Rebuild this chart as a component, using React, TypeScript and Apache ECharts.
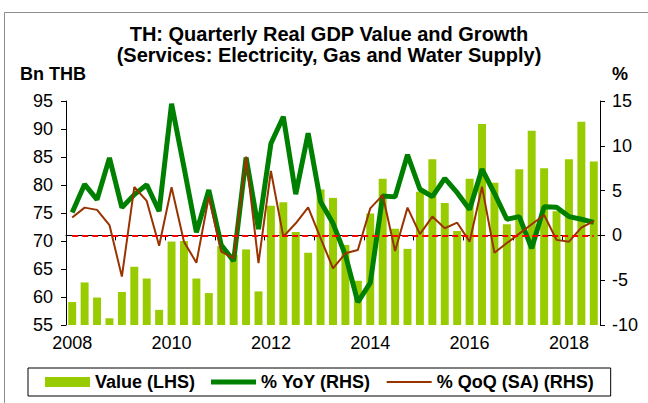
import React, { useEffect, useRef } from "react";
import * as echarts from "echarts";

const categories = [
  "2008Q1","2008Q2","2008Q3","2008Q4","2009Q1","2009Q2","2009Q3","2009Q4",
  "2010Q1","2010Q2","2010Q3","2010Q4","2011Q1","2011Q2","2011Q3","2011Q4",
  "2012Q1","2012Q2","2012Q3","2012Q4","2013Q1","2013Q2","2013Q3","2013Q4",
  "2014Q1","2014Q2","2014Q3","2014Q4","2015Q1","2015Q2","2015Q3","2015Q4",
  "2016Q1","2016Q2","2016Q3","2016Q4","2017Q1","2017Q2","2017Q3","2017Q4",
  "2018Q1","2018Q2","2018Q3",
];

const valueLHS = [
  59.1, 62.6, 59.9, 56.2, 60.9, 65.4, 63.3, 57.7,
  69.9, 70.0, 63.3, 60.7, 69.1, 67.5, 68.5, 61.0,
  76.3, 76.9, 71.6, 67.9, 79.2, 77.7, 69.3, 62.9,
  74.9, 81.1, 72.2, 68.6, 78.8, 84.6, 76.8, 71.8,
  81.1, 90.9, 80.4, 73.0, 82.8, 89.7, 83.0, 75.3,
  84.6, 91.3, 84.2,
];

const yoyRHS = [
  2.55, 5.7, 4.0, 8.65, 3.1, 4.55, 5.65, 2.7,
  14.7, 7.6, 0.35, 5.07, -1.07, -2.85, 8.7, 0.7,
  10.25, 13.25, 4.6, 11.4, 3.76, 1.35, -2.2, -7.45,
  -5.3, 4.4, 4.3, 9.0, 5.15, 4.32, 6.37, 4.77,
  2.9, 7.4, 4.7, 1.8, 2.1, -1.44, 3.2, 3.15,
  2.1, 1.8, 1.45,
];

const qoqRHS = [
  2.0, 3.1, 2.85, 1.15, -4.6, 5.4, 3.85, -1.15,
  5.37, -0.7, -3.05, 4.32, -1.8, -2.56, 8.8, -3.1,
  7.19, -0.14, 1.35, 3.13, -0.3, -3.68, -2.0, -1.63,
  3.02, 4.5, -1.74, 3.1, 0.14, 2.1, 0.8, 1.42,
  -0.7, 5.44, -1.93, -0.85, 0.2, 1.25, 2.28, -0.5,
  -0.7, 0.86, 1.6,
];

const FONT = "Arial, 'Liberation Sans', sans-serif";

const thickLineIcon = "path://M0,0L0.01,0M0,2.5L45,2.5L45,7.5L0,7.5ZM44.99,10L45,10";
const thinLineIcon = "path://M0,0L0.01,0M0,4L45,4L45,6L0,6ZM44.99,10L45,10";

export default function App() {
  const ref = useRef<HTMLDivElement>(null);
  useEffect(() => {
    if (!ref.current) return;
    const chart = echarts.init(ref.current, undefined, { renderer: "svg" });
    chart.setOption({
      animation: false,
      backgroundColor: "#ffffff",
      textStyle: { fontFamily: FONT },
      graphic: [
        {
          type: "rect",
          shape: { x: 4.5, y: 12.5, width: 700, height: 500 },
          style: { fill: "none", stroke: "#8c8c8c", lineWidth: 1 },
          silent: true,
        },
        {
          type: "text",
          x: 329,
          y: 23,
          style: {
            text: "TH: Quarterly Real GDP Value and Growth\n(Services: Electricity, Gas and Water Supply)",
            font: `bold 20px ${FONT}`,
            fill: "#000",
            textAlign: "center",
            lineHeight: 21,
          },
        },
        {
          type: "text",
          x: 20,
          y: 65,
          style: { text: "Bn THB", font: `bold 18px ${FONT}`, fill: "#000" },
        },
        {
          type: "text",
          x: 612,
          y: 65,
          style: { text: "%", font: `bold 18px ${FONT}`, fill: "#000" },
        },
      ],
      grid: { left: 66, top: 101, width: 534, height: 224, containLabel: false },
      legend: {
        left: 28,
        top: 368,
        padding: [5, 17, 5, 17],
        borderColor: "#000",
        borderWidth: 1,
        itemGap: 16,
        itemWidth: 45,
        itemHeight: 10,
        textStyle: { fontFamily: FONT, fontSize: 18, fontWeight: "bold", color: "#000" },
        data: [
          { name: "Value (LHS)", icon: "rect" },
          { name: "% YoY (RHS)", icon: thickLineIcon },
          { name: "% QoQ (SA) (RHS)", icon: thinLineIcon },
        ],
      },
      xAxis: {
        type: "category",
        data: categories,
        boundaryGap: true,
        axisLine: { lineStyle: { color: "#000", width: 1 } },
        axisTick: { show: true, interval: 3, length: 5, inside: false, lineStyle: { color: "#000" } },
        axisLabel: {
          interval: 7,
          margin: 9,
          fontSize: 18,
          color: "#000",
          fontFamily: FONT,
          formatter: (v: string) => v.slice(0, 4),
        },
        splitLine: { show: false },
      },
      yAxis: [
        {
          type: "value",
          min: 55,
          max: 95,
          interval: 5,
          position: "left",
          axisLine: { show: true, lineStyle: { color: "#000" } },
          axisTick: { show: true, length: 5, lineStyle: { color: "#000" } },
          axisLabel: { fontSize: 18, color: "#000", margin: 13, fontFamily: FONT },
          splitLine: { show: false },
        },
        {
          type: "value",
          min: -10,
          max: 15,
          interval: 5,
          position: "right",
          axisLine: { show: true, lineStyle: { color: "#000" } },
          axisTick: { show: true, length: 5, lineStyle: { color: "#000" } },
          axisLabel: { fontSize: 18, color: "#000", margin: 12, fontFamily: FONT },
          splitLine: { show: false },
        },
      ],
      series: [
        {
          name: "Value (LHS)",
          type: "bar",
          yAxisIndex: 0,
          data: valueLHS,
          barWidth: "64%",
          itemStyle: { color: "#99cc00" },
          z: 1,
        },
        {
          name: "% YoY (RHS)",
          type: "line",
          yAxisIndex: 1,
          data: yoyRHS,
          symbol: "none",
          lineStyle: { color: "#008000", width: 5 },
          itemStyle: { color: "#008000" },
          z: 3,
          markLine: {
            silent: true,
            symbol: "none",
            label: { show: false },
            lineStyle: { color: "#ff0000", type: [6, 4], width: 2 },
            data: [[{ coord: [categories[0], 0] }, { coord: [categories[categories.length - 1], 0] }]],
          },
        },
        {
          name: "% QoQ (SA) (RHS)",
          type: "line",
          yAxisIndex: 1,
          data: qoqRHS,
          symbol: "none",
          lineStyle: { color: "#993300", width: 2 },
          itemStyle: { color: "#993300" },
          z: 4,
        },
      ],
    });
    return () => chart.dispose();
  }, []);
  return (
    <div
      ref={ref}
      style={{ position: "fixed", left: 0, top: 0, width: 648, height: 403 }}
    />
  );
}
